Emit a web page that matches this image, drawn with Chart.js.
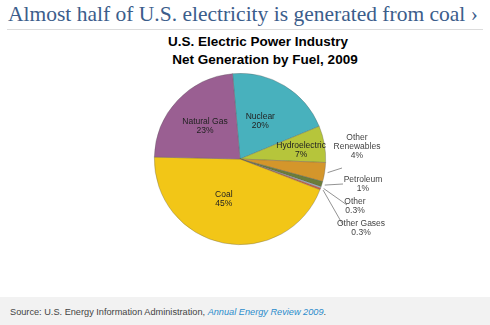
<!DOCTYPE html>
<html>
<head>
<meta charset="utf-8">
<script src="https://cdn.jsdelivr.net/npm/chart.js@4/dist/chart.umd.min.js"></script>
<style>
  html, body { margin: 0; padding: 0; background: #fff; }
  body { width: 490px; height: 325px; position: relative; overflow: hidden; font-family: "Liberation Sans", Arial, sans-serif; }
  .headline { position: absolute; left: 8px; top: 0px; font-family: "Liberation Serif", "Times New Roman", serif; font-size: 23px; color: #3b5d8b; white-space: nowrap; line-height: 28px; }
  .rule { position: absolute; left: 7px; top: 29px; width: 476px; height: 1px; background: #dcdcdc; }
  .ctitle { position: absolute; left: 0; width: 530px; text-align: center; font-weight: bold; font-size: 13.5px; color: #000; top: 33px; line-height: 18px; }
  .ctitle span { position: relative; left: -7px; }
  .footer { position: absolute; left: 0; top: 297px; width: 490px; height: 28px; background: #f2f2f2; }
  .footer p { margin: 0; position: absolute; left: 10px; top: 10px; font-size: 9.2px; color: #444; white-space: nowrap; }
  .footer em { color: #2b8ccc; }
  #wrap { position: absolute; left: 0; top: 0; width: 490px; height: 325px; }
</style>
</head>
<body>
<div class="headline" id="headline">Almost half of U.S. electricity is generated from coal ›</div>
<div class="rule"></div>
<div class="ctitle"><span>U.S. Electric Power Industry</span><br>Net Generation by Fuel, 2009</div>
<div class="footer"><p>Source: U.S. Energy Information Administration, <em>Annual Energy Review 2009</em>.</p></div>
<div id="wrap"><canvas id="pie" width="490" height="325"></canvas></div>
<script>
// headline spans the rule width
(function fitHeadline() {
    const h = document.getElementById('headline');
    const w = h.getBoundingClientRect().width;
    h.style.fontSize = (23 * 470 / w).toFixed(2) + 'px';
})();

// fuel shares, percent of net generation (clockwise from the top)
const fuels = ['Nuclear', 'Hydroelectric', 'Other Renewables', 'Petroleum', 'Other', 'Other Gases', 'Coal', 'Natural Gas'];
const shares = [20.2, 6.9, 3.6, 1.0, 0.3, 0.3, 44.6, 23.3];
const shareLabels = ['20%', '7%', '4%', '1%', '0.3%', '0.3%', '45%', '23%'];
const fuelColors = ['#48b1bd', '#b6c53b', '#d4962b', '#6a7d39', '#a7b6c6', '#e05a3b', '#f2c617', '#9a5f92'];

// where each label goes: inside the slice (radius fraction) or outside with a leader line
const labelPlace = [
    { inside: 0.5, turn: -3 },
    { inside: 0.72, turn: 2 },
    { out: [117, -12], lineEnd: [102, 9], lines: ['Other', 'Renewables'] },
    { out: [123, 25], lineEnd: [103, 25] },
    { out: [115, 47], lineEnd: [107, 46] },
    { out: [121, 69], lineEnd: [103, 66] },
    { inside: 0.5, turn: 11 },
    { inside: 0.56, turn: 0, lines: ['Natural Gas'] }
];

const sliceLabels = {
    id: 'sliceLabels',
    afterDatasetsDraw(chart) {
        const ctx = chart.ctx;
        const arcs = chart.getDatasetMeta(0).data;
        ctx.save();
        ctx.font = '8.5px "Liberation Sans", Arial, sans-serif';
        ctx.textAlign = 'center';
        ctx.textBaseline = 'middle';
        arcs.forEach((arc, i) => {
            const p = labelPlace[i];
            const cx = arc.x, cy = arc.y, r = arc.outerRadius;
            const mid = (arc.startAngle + arc.endAngle) / 2;
            const names = p.lines || [fuels[i]];
            const rows = names.concat([shareLabels[i]]);
            let tx, ty;
            if (p.inside) {
                const a = mid + p.turn * Math.PI / 180;
                tx = cx + Math.cos(a) * r * p.inside;
                ty = cy + Math.sin(a) * r * p.inside;
                ctx.fillStyle = '#222';
            } else {
                tx = cx + p.out[0];
                ty = cy + p.out[1];
                // leader line from just outside the rim
                ctx.strokeStyle = '#777';
                ctx.lineWidth = 0.8;
                ctx.beginPath();
                ctx.moveTo(cx + Math.cos(mid) * (r + 3), cy + Math.sin(mid) * (r + 3));
                ctx.lineTo(cx + p.lineEnd[0], cy + p.lineEnd[1]);
                ctx.stroke();
                ctx.fillStyle = '#444';
            }
            const step = 9;
            const y0 = ty - (rows.length - 1) * step / 2;
            rows.forEach((t, k) => ctx.fillText(t, tx, y0 + k * step));
        });
        ctx.restore();
    }
};

new Chart(document.getElementById('pie'), {
    type: 'pie',
    data: {
        labels: fuels,
        datasets: [{
            data: shares,
            backgroundColor: fuelColors,
            borderColor: 'rgba(90,90,90,0.55)',
            borderWidth: 0.6
        }]
    },
    options: {
        responsive: false,
        animation: false,
        rotation: -5,
        layout: { padding: { left: 154, right: 164, top: 73, bottom: 80 } },
        plugins: {
            legend: { display: false },
            tooltip: { enabled: false },
            title: { display: false }
        }
    },
    plugins: [sliceLabels]
});
</script>
</body>
</html>
